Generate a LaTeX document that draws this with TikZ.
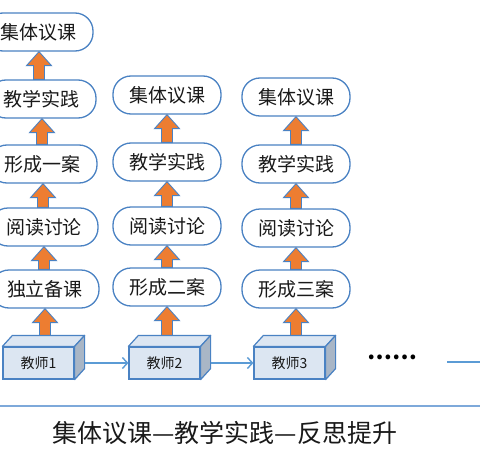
\documentclass[tikz,border=0pt]{standalone}
\usepackage{fontspec}
\newfontfamily\cjk{Noto Sans CJK SC}
\usetikzlibrary{arrows.meta,calc}
\definecolor{boxblue}{HTML}{4A82C3}
\definecolor{arrorange}{HTML}{ED7D31}
\definecolor{facefill}{HTML}{DCE6F2}
\definecolor{sidefill}{HTML}{A9B6C6}
\definecolor{connblue}{HTML}{5B9BD5}
\definecolor{sepblue}{HTML}{7EA9DA}
\tikzset{
  pill/.style={draw=boxblue, line width=1.3pt, rounded corners=18pt,
    minimum width=108pt, minimum height=38pt, fill=white, inner sep=0pt,
    text=black!90, font=\cjk\fontsize{19}{19}\selectfont},
  front/.style={draw=boxblue, line width=1.2pt, fill=facefill,
    minimum width=71pt, minimum height=32pt, inner sep=0pt,
    text=black!90, font=\cjk\fontsize{14}{14}\selectfont},
  topface/.style={draw=boxblue, line width=1.2pt, fill=facefill, line join=round},
  sideface/.style={draw=boxblue, line width=1.2pt, fill=sidefill, line join=round},
  blockarr/.style={draw=boxblue, line width=0.9pt, fill=arrorange, line join=miter},
  conn/.style={draw=connblue, line width=1.4pt, -{Straight Barb[length=5pt,width=11pt,line width=1.4pt]}},
  plainline/.style={draw=connblue, line width=1.4pt},
  sep/.style={draw=sepblue, line width=1.6pt},
  captext/.style={text=black!90, font=\cjk\fontsize{25}{25}\selectfont, inner sep=0pt},
  dotstext/.style={text=black, font=\cjk\bfseries\fontsize{22}{22}\selectfont, inner sep=0pt}
}
\newcommand\upblock[2]{%
  \path let \p1=#1, \p2=#2 in [blockarr]
    (\x2,\y2) -- (\x2+12.5pt,\y2-14pt) -- (\x2+5.5pt,\y2-14pt) -- (\x2+5.5pt,\y1)
    -- (\x2-5.5pt,\y1) -- (\x2-5.5pt,\y2-14pt) -- (\x2-12.5pt,\y2-14pt) -- cycle;}
\newcommand\teacherbox[3]{%
  \node[front] (#1) at (#2) {#3};
  \path[topface] (#1.north west) -- ++(10pt,11pt) -- ($(#1.north east)+(10pt,11pt)$) -- (#1.north east) -- cycle;
  \path[sideface] (#1.north east) -- ++(10pt,11pt) -- ($(#1.south east)+(10pt,11pt)$) -- (#1.south east) -- cycle;
  \coordinate (#1top) at ($(#1.north)+(0,11pt)$);
  \coordinate (#1side) at ($(#1.east)+(10pt,0)$);}
\begin{document}
\begin{tikzpicture}[x=1pt,y=-1pt]
\useasboundingbox[fill=white] (0,0) rectangle (480,466);
% column 1
\node[pill] (a1) at (39,32) {集体议课};
\node[pill] (a2) at (42,99) {教学实践};
\node[pill] (a3) at (43,164) {形成一案};
\node[pill] (a4) at (44,227) {阅读讨论};
\node[pill] (a5) at (45,289) {独立备课};
% column 2
\node[pill] (b1) at (167,95) {集体议课};
\node[pill] (b2) at (167,162) {教学实践};
\node[pill] (b3) at (167,226) {阅读讨论};
\node[pill] (b4) at (167,287) {形成二案};
% column 3
\node[pill] (c1) at (296,97) {集体议课};
\node[pill] (c2) at (296,164) {教学实践};
\node[pill] (c3) at (296,228) {阅读讨论};
\node[pill] (c4) at (296,289) {形成三案};
% teacher boxes
\teacherbox{t1}{38.5,363}{教师1}
\teacherbox{t2}{164.5,363}{教师2}
\teacherbox{t3}{289.5,363}{教师3}
% block arrows
\upblock{(a2.north)}{(a1.south)}
\upblock{(a3.north)}{(a2.south)}
\upblock{(a4.north)}{(a3.south)}
\upblock{(a5.north)}{(a4.south)}
\upblock{(t1top)}{(a5.south)}
\upblock{(b2.north)}{(b1.south)}
\upblock{(b3.north)}{(b2.south)}
\upblock{(b4.north)}{(b3.south)}
\upblock{(t2top)}{(b4.south)}
\upblock{(c2.north)}{(c1.south)}
\upblock{(c3.north)}{(c2.south)}
\upblock{(c4.north)}{(c3.south)}
\upblock{(t3top)}{(c4.south)}
% connectors
\draw[conn] (t1side) -- (t2.west);
\draw[conn] (t2side) -- (t3.west);
\node[dotstext] (dots) at (392,357) {……};
\coordinate (r1) at (447,362);
\coordinate (r2) at (481,362);
\draw[plainline] (r1) -- (r2);
% separator and caption
\coordinate (s1) at (-1,406);
\coordinate (s2) at (481,406);
\draw[sep] (s1) -- (s2);
\node[captext] (cap) at (225,433) {集体议课—教学实践—反思提升};
\end{tikzpicture}
\end{document}
